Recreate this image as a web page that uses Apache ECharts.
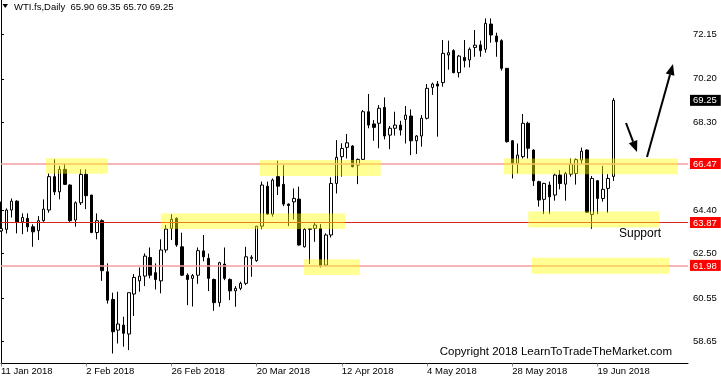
<!DOCTYPE html>
<html>
<head>
<meta charset="utf-8">
<script src="https://cdn.jsdelivr.net/npm/echarts@6/dist/echarts.min.js"></script>
<style>
  html, body { margin: 0; padding: 0; background: #fff; }
  #chart { width: 721px; height: 380px; }
</style>
</head>
<body>
<div id="chart"></div>
<script>
// trading days shown on the chart (last rows are empty space to the right)
const tradingDays = {
  Jan: [11, 12, 15, 16, 17, 18, 19, 22, 23, 24, 25, 26, 29, 30, 31],
  Feb: [1, 2, 5, 6, 7, 8, 9, 12, 13, 14, 15, 16, 19, 20, 21, 22, 23, 26, 27, 28],
  Mar: [1, 2, 5, 6, 7, 8, 9, 12, 13, 14, 15, 16, 19, 20, 21, 22, 23, 26, 27, 28, 29],
  Apr: [2, 3, 4, 5, 6, 9, 10, 11, 12, 13, 16, 17, 18, 19, 20, 23, 24, 25, 26, 27, 30],
  May: [1, 2, 3, 4, 7, 8, 9, 10, 11, 14, 15, 16, 17, 18, 21, 22, 23, 24, 25, 28, 29, 30, 31],
  Jun: [1, 4, 5, 6, 7, 8, 11, 12, 13, 14, 15, 18, 19, 20, 21, 22, 25, 26, 27, 28, 29],
  Jul: [2, 3, 4, 5, 6, 9, 10, 11, 12]
};
const tickLabels = ['11 Jan 2018', '2 Feb 2018', '26 Feb 2018', '20 Mar 2018',
  '12 Apr 2018', '4 May 2018', '28 May 2018', '19 Jun 2018'];

const opens = [
  63.50, 63.57, 64.42, 64.81, 63.90, 64.05, 63.68, 63.51, 63.95, 64.42,
  65.89, 65.22, 66.21, 65.52, 63.98, 64.74, 65.99, 65.08, 63.43, 63.95,
  61.70, 60.48, 59.13, 59.35, 58.96, 60.72, 61.30, 61.51, 62.33, 61.66,
  61.30, 62.66, 63.61, 64.05, 62.80, 61.55, 61.41, 61.55, 62.62, 62.29,
  61.36, 60.34, 62.04, 61.36, 60.86, 60.97, 61.19, 62.29, 62.19, 63.71,
  65.47, 64.24, 65.89, 65.55, 64.68, 64.78, 64.90, 62.80, 63.57, 63.61,
  63.61, 61.99, 63.32, 65.59, 66.77, 67.18, 67.24, 66.40, 66.65, 68.75,
  68.21, 68.24, 68.94, 67.72, 68.02, 68.16, 68.41, 68.56, 67.47, 67.68,
  68.46, 69.82, 69.97, 70.03, 71.25, 71.44, 70.47, 71.14, 71.03, 71.58,
  71.69, 71.50, 72.61, 72.08, 71.88, 70.66, 67.47, 66.47, 66.77, 68.24,
  67.06, 65.67, 64.89, 65.52, 65.08, 65.96, 65.56, 66.00, 66.03, 66.62,
  67.06, 64.22, 65.71, 64.93, 65.37, 65.90
];
const highs = [
  64.79, 64.49, 64.93, 64.85, 64.27, 64.27, 63.79, 64.15, 64.89, 66.03,
  66.65, 66.36, 66.47, 65.55, 64.80, 66.21, 66.21, 65.08, 64.27, 64.01,
  62.07, 60.78, 60.82, 59.72, 60.78, 61.60, 61.89, 62.51, 62.77, 62.07,
  63.13, 63.76, 64.24, 64.10, 63.42, 61.63, 61.60, 62.77, 63.32, 62.50,
  61.40, 62.14, 62.77, 61.41, 61.07, 61.26, 62.80, 62.43, 63.71, 65.67,
  65.67, 65.81, 66.59, 66.40, 64.71, 65.37, 65.45, 63.63, 63.61, 63.86,
  63.80, 63.39, 65.86, 67.50, 67.36, 67.77, 67.28, 66.69, 68.82, 69.53,
  68.38, 69.04, 69.38, 68.12, 68.75, 68.35, 69.00, 68.85, 67.72, 68.60,
  69.97, 70.03, 70.10, 71.91, 71.88, 71.50, 71.25, 71.91, 71.58, 72.35,
  71.88, 72.86, 72.86, 72.23, 71.94, 70.66, 67.50, 67.35, 68.65, 68.31,
  67.09, 65.71, 65.62, 65.67, 66.03, 66.18, 66.10, 66.69, 66.69, 67.17,
  67.09, 65.92, 65.74, 66.36, 66.00, 69.35
];
const lows = [
  63.46, 63.39, 64.09, 63.39, 63.36, 63.46, 62.80, 63.10, 63.90, 64.30,
  65.08, 64.89, 65.52, 63.90, 63.69, 64.64, 64.46, 63.40, 63.13, 61.30,
  60.30, 58.10, 58.54, 58.40, 58.25, 59.75, 60.82, 61.07, 61.41, 60.92,
  60.75, 62.54, 63.10, 62.80, 61.51, 60.23, 60.17, 61.17, 62.16, 60.85,
  59.98, 60.16, 61.33, 60.45, 60.16, 60.89, 61.11, 61.48, 62.14, 63.57,
  64.20, 64.13, 65.08, 64.59, 63.71, 64.00, 62.85, 62.77, 62.04, 63.02,
  61.89, 61.95, 63.21, 65.15, 65.89, 66.69, 66.30, 65.56, 66.62, 68.02,
  67.47, 67.14, 67.53, 67.10, 67.70, 67.70, 67.35, 66.84, 66.89, 67.21,
  68.41, 69.49, 67.65, 69.85, 70.60, 70.44, 70.26, 70.70, 70.70, 71.17,
  71.17, 71.35, 71.79, 71.17, 70.56, 67.39, 65.81, 66.03, 66.69, 66.69,
  65.48, 64.57, 64.24, 64.24, 64.83, 65.33, 64.83, 65.89, 65.54, 66.45,
  64.30, 63.59, 64.24, 64.79, 64.30, 65.70
];
const closes = [
  63.60, 64.42, 64.81, 63.88, 64.09, 63.68, 63.46, 63.95, 64.46, 65.89,
  65.22, 66.21, 65.55, 63.95, 64.74, 65.99, 65.05, 63.43, 63.95, 61.75,
  60.45, 59.06, 59.40, 58.99, 60.78, 61.45, 61.51, 62.39, 61.55, 61.36,
  62.66, 63.58, 64.01, 62.88, 61.55, 61.36, 61.53, 62.63, 62.36, 61.41,
  60.34, 62.10, 61.41, 60.86, 60.97, 61.19, 62.36, 62.34, 63.71, 65.52,
  64.24, 65.74, 65.47, 64.68, 64.62, 64.93, 62.88, 63.57, 63.59, 63.76,
  61.95, 63.32, 65.59, 66.74, 67.13, 67.38, 66.33, 66.65, 68.75, 68.16,
  68.06, 68.90, 67.68, 68.02, 68.16, 67.94, 68.60, 67.47, 67.68, 68.46,
  69.78, 69.97, 69.88, 71.32, 71.35, 70.47, 71.20, 71.00, 71.50, 71.68,
  71.44, 72.64, 72.13, 71.83, 70.66, 67.43, 66.47, 66.84, 68.24, 67.14,
  65.71, 64.86, 65.59, 65.00, 65.96, 65.59, 66.03, 66.44, 66.64, 67.01,
  64.32, 65.81, 64.93, 65.33, 65.81, 69.25
];

const priceTicks = [58.65, 60.55, 62.50, 64.40, 68.30, 70.20, 72.15];
const levelPrices = [66.47, 63.87, 61.98];
const lastPrice = 69.25;

// yellow zones: [first bar, last bar, low price, high price]
const zones = [
  [8.45, 20.1, 66.02, 66.70],
  [48.6, 71.3, 65.92, 66.62],
  [30.0, 64.6, 63.58, 64.27],
  [56.9, 67.4, 61.56, 62.25],
  [94.4, 127.1, 66.00, 66.69],
  [99.0, 123.6, 63.65, 64.35],
  [99.6, 125.5, 61.61, 62.32]
];

const dates = [];
Object.keys(tradingDays).forEach(function (m) {
  tradingDays[m].forEach(function (d) { dates.push(d + ' ' + m + ' 2018'); });
});
const candles = opens.map(function (o, i) {
  return [o, closes[i], lows[i], highs[i]];
});

const fontFamily = 'Liberation Sans';
const chart = echarts.init(document.getElementById('chart'), null, { renderer: 'canvas' });

function arrow(x1, y1, x2, y2) {
  const a = Math.atan2(y2 - y1, x2 - x1);
  const len = 11, half = 4.5;
  const bx = x2 - len * Math.cos(a), by = y2 - len * Math.sin(a);
  const px = -Math.sin(a) * half, py = Math.cos(a) * half;
  return [
    { type: 'line', shape: { x1: x1, y1: y1, x2: bx, y2: by }, style: { stroke: '#000', lineWidth: 2 }, z: 20 },
    { type: 'polygon', shape: { points: [[x2, y2], [bx + px, by + py], [bx - px, by - py]] }, style: { fill: '#000' }, z: 20 }
  ];
}

chart.setOption({
  animation: false,
  backgroundColor: '#fff',
  textStyle: { fontFamily: fontFamily },
  grid: { left: 1, right: 33, top: 0, bottom: 16.5, outerBoundsMode: 'none', containLabel: false },
  xAxis: [
    {
      type: 'category',
      data: dates,
      boundaryGap: false,
      axisLine: { show: true, lineStyle: { color: '#000', width: 1 } },
      axisTick: {
        show: true, length: 3, lineStyle: { color: '#888' },
        interval: function (i, v) { return tickLabels.indexOf(v) >= 0; }
      },
      axisLabel: {
        interval: function (i, v) { return tickLabels.indexOf(v) >= 0; },
        align: 'left', margin: 3, color: '#000', fontSize: 9.5, fontFamily: fontFamily
      },
      splitLine: { show: false }
    },
    { type: 'value', min: 0, max: dates.length - 1, show: false }
  ],
  yAxis: {
    type: 'value',
    position: 'right',
    min: 57.66,
    max: 73.67,
    scale: true,
    axisLine: { show: true, lineStyle: { color: '#000', width: 1 } },
    axisTick: { show: true, length: 3, customValues: priceTicks, lineStyle: { color: '#000' } },
    splitLine: { show: false },
    axisLabel: {
      customValues: priceTicks.concat(levelPrices, [lastPrice]),
      margin: 2,
      formatter: function (v) {
        const s = v.toFixed(2);
        if (levelPrices.indexOf(v) >= 0) return '{r|' + s + '}';
        if (v === lastPrice) return '{k|' + s + '}';
        return '{n|' + s + '}';
      },
      rich: {
        n: { color: '#000', fontSize: 9.5, fontFamily: fontFamily, padding: [0, 3, 0, 3] },
        r: { color: '#fff', backgroundColor: '#ff0000', fontSize: 9.5, fontFamily: fontFamily,
             padding: [1, 4, 0, 3], lineHeight: 10 },
        k: { color: '#fff', backgroundColor: '#000', fontSize: 9.5, fontFamily: fontFamily,
             padding: [1, 4, 0, 3], lineHeight: 10 }
      }
    }
  },
  series: [
    {
      type: 'candlestick',
      data: candles,
      barWidth: 3,
      z: 2,
      itemStyle: {
        color: '#fff', color0: '#000',
        borderColor: '#000', borderColor0: '#000', borderWidth: 1
      },
      markLine: {
        silent: true,
        symbol: 'none',
        label: { show: false },
        data: [
          { yAxis: levelPrices[0], lineStyle: { color: '#f59d9d', width: 1.7, type: 'solid' } },
          { yAxis: levelPrices[1], lineStyle: { color: '#dd2222', width: 1.2, type: 'solid' } },
          { yAxis: levelPrices[2], lineStyle: { color: '#f59d9d', width: 1.7, type: 'solid' } }
        ]
      }
    },
    {
      type: 'custom',
      xAxisIndex: 1,
      z: 5,
      silent: true,
      data: zones,
      renderItem: function (params, api) {
        const p0 = api.coord([api.value(0), api.value(3)]);
        const p1 = api.coord([api.value(1), api.value(2)]);
        return {
          type: 'rect',
          shape: { x: p0[0], y: p0[1], width: p1[0] - p0[0], height: p1[1] - p0[1] },
          style: { fill: 'rgba(255,255,0,0.42)' }
        };
      }
    }
  ],
  graphic: [
    { type: 'polygon', shape: { points: [[2.5, 4], [8, 4], [5.25, 8]] }, style: { fill: '#000' }, z: 20 },
    { type: 'text', x: 14, y: 7, z: 20,
      style: { text: 'WTI.fs,Daily  65.90 69.35 65.70 69.25', fill: '#000', font: '9.5px "Liberation Sans"', verticalAlign: 'middle' } },
    { type: 'text', x: 619, y: 234, z: 20,
      style: { text: 'Support', fill: '#000', font: '12px "Liberation Sans"', verticalAlign: 'middle' } },
    { type: 'text', x: 672, y: 352, z: 20,
      style: { text: 'Copyright 2018 LearnToTradeTheMarket.com', fill: '#000', font: '11.5px "Liberation Sans"', align: 'right', verticalAlign: 'middle' } }
  ].concat(arrow(626, 123, 637, 152), arrow(647, 157, 673, 64))
});
</script>
</body>
</html>
